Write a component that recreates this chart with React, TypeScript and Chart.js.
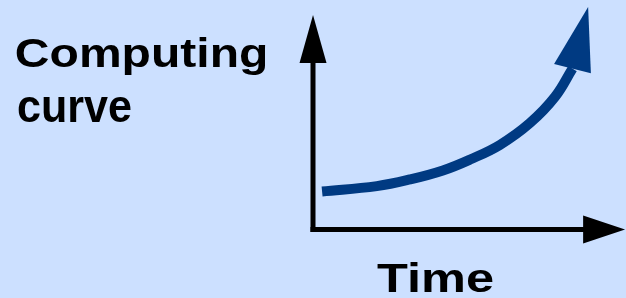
import React, { useEffect, useRef } from "react";
import { Chart, registerables } from "chart.js";

Chart.register(...registerables);

// Abstract units: origin at the corner of the two axes.
const X_MIN = -10;
const X_MAX = 10;
const Y_MIN = -3.2;
const Y_MAX = 10.7;

// Computing curve (time, value); ends at the base of its arrowhead.
const curveTime = [0.29, 2.04, 3.1, 4.15, 5.02, 5.97, 6.93, 7.73, 8.29];
const curveValue = [1.77, 2.02, 2.33, 2.75, 3.26, 3.94, 4.96, 6.18, 7.5];
const curveArrowTip = [8.79, 10.37];

// Vertical axis: origin -> arrow base, then tip
const yAxisTime = [0, 0];
const yAxisValue = [0, 7.76];
const yAxisArrowTip = [0, 10.0];

// Horizontal axis: origin -> arrow base, then tip
const xAxisTime = [0, 8.63];
const xAxisValue = [0, 0];
const xAxisArrowTip = [9.97, 0];

// Text labels
const labelTexts = ["Computing", "curve", "Time"];

const BG = "rgb(204,224,255)";
const CURVE_COLOR = "#003a82";
const AXIS_COLOR = "#000000";

const toPoints = (xs: number[], ys: number[]) => xs.map((x, i) => ({ x, y: ys[i] }));

const arrowPlugin = {
  id: "arrowHeads",
  afterDatasetsDraw(chart: any) {
    const ctx = chart.ctx;
    const xs = chart.scales.x;
    const ys = chart.scales.y;
    chart.data.datasets.forEach((ds: any, i: number) => {
      if (!ds.arrowTip) return;
      const pts = chart.getDatasetMeta(i).data;
      const b = pts[pts.length - 1];
      const tx = xs.getPixelForValue(ds.arrowTip[0]);
      const ty = ys.getPixelForValue(ds.arrowTip[1]);
      const dx = tx - b.x;
      const dy = ty - b.y;
      const len = Math.hypot(dx, dy) || 1;
      const px = (-dy / len) * ds.arrowHalfWidth;
      const py = (dx / len) * ds.arrowHalfWidth;
      ctx.save();
      ctx.fillStyle = ds.borderColor;
      ctx.beginPath();
      ctx.moveTo(tx, ty);
      ctx.lineTo(b.x + px, b.y + py);
      ctx.lineTo(b.x - px, b.y - py);
      ctx.closePath();
      ctx.fill();
      ctx.restore();
    });
  },
};

const labelSpecs = [
  { left: 16, baseline: 67, size: 41, ink: 250 },
  { left: 18, baseline: 122, size: 47, ink: 113 },
  { left: 377, baseline: 292, size: 41, ink: 116 },
];

const labelPlugin = {
  id: "labels",
  afterDraw(chart: any) {
    const ctx = chart.ctx;
    labelTexts.forEach((text, i) => {
      const s = labelSpecs[i];
      ctx.save();
      ctx.font = `bold ${s.size}px "Liberation Sans", Arial, sans-serif`;
      ctx.textAlign = "left";
      ctx.textBaseline = "alphabetic";
      ctx.fillStyle = "#000";
      const m = ctx.measureText(text);
      const w = m.actualBoundingBoxLeft + m.actualBoundingBoxRight;
      const sx = s.ink / w;
      ctx.translate(s.left, s.baseline);
      ctx.scale(sx, 1);
      ctx.fillText(text, m.actualBoundingBoxLeft, 0);
      ctx.restore();
    });
  },
};

const bgPlugin = {
  id: "bg",
  beforeDraw(chart: any) {
    const ctx = chart.ctx;
    ctx.save();
    ctx.fillStyle = BG;
    ctx.fillRect(0, 0, chart.width, chart.height);
    ctx.restore();
  },
};

export default function App() {
  const ref = useRef<HTMLCanvasElement | null>(null);

  useEffect(() => {
    if (!ref.current) return;
    const chart = new Chart(ref.current, {
      type: "scatter",
      data: {
        datasets: [
          {
            label: "y axis",
            data: toPoints(yAxisTime, yAxisValue),
            showLine: true,
            borderColor: AXIS_COLOR,
            borderWidth: 5,
            borderCapStyle: "square",
            pointRadius: 0,
            tension: 0,
            arrowTip: yAxisArrowTip,
            arrowHalfWidth: 13.5,
          } as any,
          {
            label: "x axis",
            data: toPoints(xAxisTime, xAxisValue),
            showLine: true,
            borderColor: AXIS_COLOR,
            borderWidth: 5,
            borderCapStyle: "square",
            pointRadius: 0,
            tension: 0,
            arrowTip: xAxisArrowTip,
            arrowHalfWidth: 14,
          } as any,
          {
            label: "Computing curve",
            data: toPoints(curveTime, curveValue),
            showLine: true,
            borderColor: CURVE_COLOR,
            borderWidth: 10,
            borderCapStyle: "butt",
            borderJoinStyle: "round",
            pointRadius: 0,
            tension: 0.4,
            arrowTip: curveArrowTip,
            arrowHalfWidth: 19,
          } as any,
        ],
      },
      options: {
        responsive: false,
        animation: false,
        events: [],
        layout: { padding: 0 },
        scales: {
          x: { type: "linear", min: X_MIN, max: X_MAX, display: false },
          y: { type: "linear", min: Y_MIN, max: Y_MAX, display: false },
        },
        plugins: {
          legend: { display: false },
          tooltip: { enabled: false },
        },
      },
      plugins: [bgPlugin, arrowPlugin, labelPlugin],
    });
    return () => chart.destroy();
  }, []);

  return (
    <div
      style={{
        position: "fixed",
        left: 0,
        top: 0,
        width: 626,
        height: 298,
        background: BG,
      }}
    >
      <canvas ref={ref} width={626} height={298} />
    </div>
  );
}
